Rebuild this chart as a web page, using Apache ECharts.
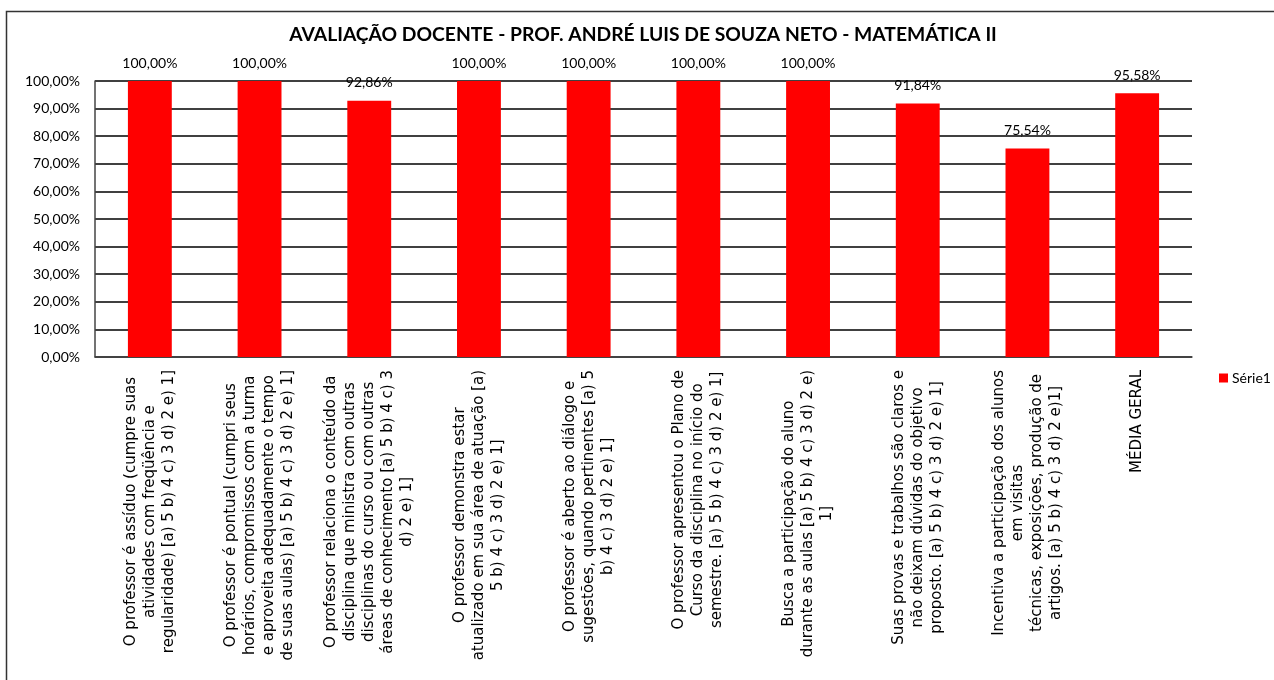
<!DOCTYPE html>
<html>
<head>
<meta charset="utf-8">
<script src="https://cdn.jsdelivr.net/npm/echarts@6/dist/echarts.min.js"></script>
<style>
  html, body { margin: 0; padding: 0; background: #fff; }
  #chart { width: 1274px; height: 680px; }
</style>
</head>
<body>
<div id="chart"></div>
<script>
const title = "AVALIAÇÃO DOCENTE - PROF. ANDRÉ LUIS DE SOUZA NETO - MATEMÁTICA II";
const seriesName = "Série1";
const categories = [
  "O professor é assíduo (cumpre suas\natividades com freqüência e\nregularidade) [a) 5 b) 4 c) 3 d) 2 e) 1]",
  "O professor é pontual (cumpri seus\nhorários, compromissos com a turma\ne aproveita adequadamente o tempo\nde suas aulas) [a) 5 b) 4 c) 3 d) 2 e) 1]",
  "O professor relaciona o conteúdo da\ndisciplina que ministra com outras\ndisciplinas do curso ou com outras\náreas de conhecimento [a) 5 b) 4 c) 3\nd) 2 e) 1]",
  "O professor demonstra estar\natualizado em sua área de atuação [a)\n5 b) 4 c) 3 d) 2 e) 1]",
  "O professor é aberto ao diálogo e\nsugestões, quando pertinentes [a) 5\nb) 4 c) 3 d) 2 e) 1]",
  "O professor apresentou o Plano de\nCurso da disciplina no início do\nsemestre. [a) 5 b) 4 c) 3 d) 2 e) 1]",
  "Busca a participação do aluno\ndurante as aulas [a) 5 b) 4 c) 3 d) 2 e)\n1]",
  "Suas provas e trabalhos são claros e\nnão deixam dúvidas do objetivo\nproposto. [a) 5 b) 4 c) 3 d) 2 e) 1]",
  "Incentiva a participação dos alunos\nem visitas\ntécnicas, exposições, produção de\nartigos. [a) 5 b) 4 c) 3 d) 2 e)1]",
  "MÉDIA GERAL"
];
const values = [100, 100, 92.86, 100, 100, 100, 100, 91.84, 75.54, 95.58];

const FONT = "Lato";
const LABEL_FONT = "DejaVu Sans";
const pct = v => v.toFixed(2).replace(".", ",") + "%";

const chart = echarts.init(document.getElementById("chart"));
chart.setOption({
  animation: false,
  textStyle: { fontFamily: FONT },
  graphic: [{
    type: "rect",
    shape: { x: 6.5, y: 11.5, width: 1300, height: 700 },
    style: { fill: "none", stroke: "#333", lineWidth: 1.5 },
    silent: true
  }],
  title: {
    text: title,
    left: 638,
    textAlign: "center",
    top: 20,
    textStyle: { fontFamily: FONT, fontWeight: "bold", fontSize: 19.3, color: "#000" }
  },
  legend: {
    data: [seriesName],
    left: 1214,
    top: 366,
    icon: "rect",
    itemWidth: 9,
    itemHeight: 9,
    itemGap: 4,
    textStyle: { fontFamily: FONT, fontSize: 14, color: "#000", padding: [0, 0, 0, -1] }
  },
  grid: { left: 95, right: 82, top: 81, bottom: 323 },
  xAxis: {
    type: "category",
    data: categories,
    axisTick: { show: false },
    axisLine: { lineStyle: { color: "#444", width: 1.5 } },
    axisLabel: {
      interval: 0,
      rotate: 90,
      margin: 13,
      color: "#000",
      fontFamily: LABEL_FONT,
      fontSize: 15,
      lineHeight: 19,
      formatter: v => v.split("\n").map(l => "{c|" + l + "}").join("\n"),
      rich: { c: { align: "center", fontFamily: LABEL_FONT, fontSize: 15, lineHeight: 19, color: "#000" } }
    }
  },
  yAxis: {
    type: "value",
    min: 0,
    max: 100,
    interval: 10,
    axisLine: { show: true, lineStyle: { color: "#444", width: 1.5 } },
    axisTick: { show: false },
    splitLine: { lineStyle: { color: "#000", width: 1.5 } },
    axisLabel: { color: "#000", fontFamily: FONT, fontSize: 14, margin: 15, formatter: pct }
  },
  series: [{
    name: seriesName,
    type: "bar",
    data: values,
    barWidth: "40%",
    itemStyle: { color: "#ff0000" },
    label: {
      show: true,
      position: "top",
      distance: 11,
      color: "#000",
      fontFamily: FONT,
      fontSize: 14,
      formatter: p => pct(p.value)
    }
  }]
});
</script>
</body>
</html>
